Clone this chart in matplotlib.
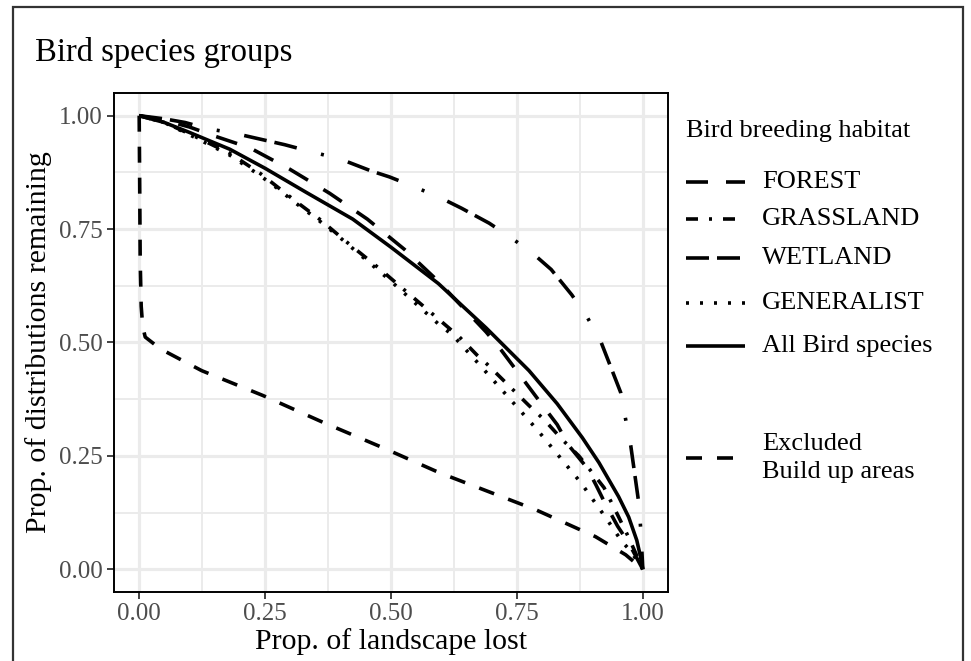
import matplotlib
matplotlib.use('Agg')
import matplotlib.pyplot as plt
from matplotlib.lines import Line2D
from matplotlib.patches import Rectangle

plt.rcParams['font.family'] = ['Liberation Serif', 'DejaVu Serif']
plt.rcParams['lines.scale_dashes'] = False

# ---------------- data ----------------
forest_x = [0.0, 0.05, 0.10, 0.15, 0.22, 0.299, 0.378, 0.453, 0.527, 0.59, 0.689, 0.719,
            0.804, 0.83, 0.853, 0.889, 0.907, 0.923, 0.95, 0.972, 1.0]
forest_y = [1.0, 0.99, 0.975, 0.955, 0.929, 0.882, 0.829, 0.772, 0.705, 0.639, 0.523, 0.483,
            0.357, 0.319, 0.273, 0.224, 0.186, 0.15, 0.095, 0.058, 0.0]

grass_x = [0.0, 0.05, 0.10, 0.18, 0.24, 0.31, 0.358, 0.418, 0.477, 0.50, 0.596, 0.636, 0.671,
           0.691, 0.774, 0.804, 0.84, 0.873, 0.889, 0.923, 0.95, 0.972, 1.0]
grass_y = [1.0, 0.985, 0.96, 0.917, 0.873, 0.812, 0.772, 0.716, 0.663, 0.641, 0.55, 0.512, 0.472,
           0.452, 0.361, 0.33, 0.286, 0.25, 0.228, 0.18, 0.12, 0.07, 0.0]

wet_x = [0.0, 0.05, 0.091, 0.137, 0.186, 0.289, 0.343, 0.398, 0.461, 0.497, 0.547, 0.60, 0.64,
         0.695, 0.741, 0.784, 0.818, 0.859, 0.889, 0.917, 0.956, 0.966, 0.976, 0.992, 0.996, 1.0]
wet_y = [1.0, 0.993, 0.985, 0.971, 0.962, 0.936, 0.92, 0.905, 0.878, 0.865, 0.843, 0.818, 0.796,
         0.763, 0.729, 0.694, 0.661, 0.605, 0.557, 0.501, 0.39, 0.33, 0.273, 0.146, 0.086, 0.0]

gen_x = [0.0, 0.05, 0.10, 0.18, 0.24, 0.273, 0.31, 0.358, 0.398, 0.438, 0.497, 0.60, 0.62, 0.675,
         0.79, 0.877, 0.927, 0.958, 0.976, 1.0]
gen_y = [1.0, 0.985, 0.958, 0.913, 0.868, 0.841, 0.808, 0.768, 0.732, 0.694, 0.638, 0.535, 0.519,
         0.452, 0.308, 0.191, 0.113, 0.062, 0.04, 0.0]

all_x = [0.0, 0.05, 0.10, 0.18, 0.25, 0.33, 0.424, 0.50, 0.594, 0.689, 0.774, 0.83, 0.88, 0.913,
         0.952, 0.972, 0.988, 0.995, 1.0]
all_y = [1.0, 0.985, 0.963, 0.926, 0.884, 0.832, 0.772, 0.710, 0.630, 0.532, 0.438, 0.365, 0.29,
         0.235, 0.160, 0.115, 0.064, 0.03, 0.0]

excl_x = [0.0, 0.001, 0.002, 0.004, 0.007, 0.012, 0.042, 0.124, 0.246, 0.365, 0.484, 0.596,
          0.788, 0.906, 0.966, 1.0]
excl_y = [1.0, 0.85, 0.68, 0.58, 0.535, 0.512, 0.486, 0.438, 0.383, 0.324, 0.268, 0.213,
          0.131, 0.072, 0.032, 0.0]

ticks = [0.0, 0.25, 0.5, 0.75, 1.0]
tick_labels = ['0.00', '0.25', '0.50', '0.75', '1.00']
minor_ticks = [0.125, 0.375, 0.625, 0.875]

labels = ['FOREST', 'GRASSLAND', 'WETLAND', 'GENERALIST', 'All Bird species',
          'Excluded\nBuild up areas']
title = 'Bird species groups'
legend_title = 'Bird breeding habitat'
xlabel = 'Prop. of landscape lost'
ylabel = 'Prop. of distributions remaining'

# ---------------- styles ----------------
PX = 0.72  # points per pixel at dpi 100
LW = 3.6 * PX
styles = [
    dict(dashes=[22 * PX, 18 * PX]),                                      # forest
    dict(dashes=[12 * PX, 11 * PX, 3 * PX, 11 * PX]),                     # grassland
    dict(dashes=[23 * PX, 8 * PX, 23 * PX, 25 * PX, 3 * PX, 25 * PX]),    # wetland
    dict(dashes=[3 * PX, 11 * PX]),                                       # generalist
    dict(linestyle='-'),                                                  # all
    dict(dashes=[16 * PX, 15 * PX]),                                      # excluded
]

W, H = 971, 661
fig = plt.figure(figsize=(W / 100, H / 100), dpi=100)


def fx(px):
    return px / W


def fy(py):
    return 1 - py / H


ax = fig.add_axes([fx(114), fy(592), (668 - 114) / W, (592 - 93) / H])
ax.set_xlim(-0.05, 1.05)
ax.set_ylim(-0.05, 1.05)

series = [(forest_x, forest_y), (grass_x, grass_y), (wet_x, wet_y), (gen_x, gen_y),
          (all_x, all_y), (excl_x, excl_y)]
for (xs, ys), st in zip(series, styles):
    ax.plot(xs, ys, color='black', lw=LW, solid_capstyle='butt', dash_capstyle='butt',
            solid_joinstyle='round', **st)

ax.set_xticks(ticks)
ax.set_xticklabels(tick_labels)
ax.set_yticks(ticks)
ax.set_yticklabels(tick_labels)
ax.set_xticks(minor_ticks, minor=True)
ax.set_yticks(minor_ticks, minor=True)
ax.grid(which='major', color='#EBEBEB', lw=2.3)
ax.grid(which='minor', color='#EBEBEB', lw=1.4)
ax.set_axisbelow(True)
ax.tick_params(which='minor', length=0)
ax.tick_params(which='major', length=5, width=1.3, color='#333333', labelcolor='#4D4D4D',
               labelsize=18, pad=3)
for sp in ax.spines.values():
    sp.set_color('black')
    sp.set_linewidth(1.4)

ax.set_xlabel(xlabel, fontsize=21.5, color='black', labelpad=2)
ax.set_ylabel(ylabel, fontsize=21.5, color='black', labelpad=5)

fig.text(fx(35), fy(61), title, fontsize=23.5, ha='left', va='baseline')

# legend (drawn manually to match uneven spacing)
fig.text(fx(686), fy(137), legend_title, fontsize=19, ha='left', va='baseline')
key_y = [182, 219, 258, 303, 346, 458]
for st, lab, ky in zip(styles, labels, key_y):
    ln = Line2D([fx(686), fx(745)], [fy(ky), fy(ky)], transform=fig.transFigure,
                color='black', lw=LW, solid_capstyle='butt', dash_capstyle='butt', **st)
    fig.add_artist(ln)
    fig.text(fx(762), fy(ky), lab, fontsize=19, ha='left', va='center', linespacing=1.3)

# outer frame
fig.add_artist(Rectangle((fx(13), fy(700)), fx(963) - fx(13), fy(7) - fy(700),
                         transform=fig.transFigure, fill=False, edgecolor='#333333', lw=1.6))

fig.savefig('out.png', dpi=100)
